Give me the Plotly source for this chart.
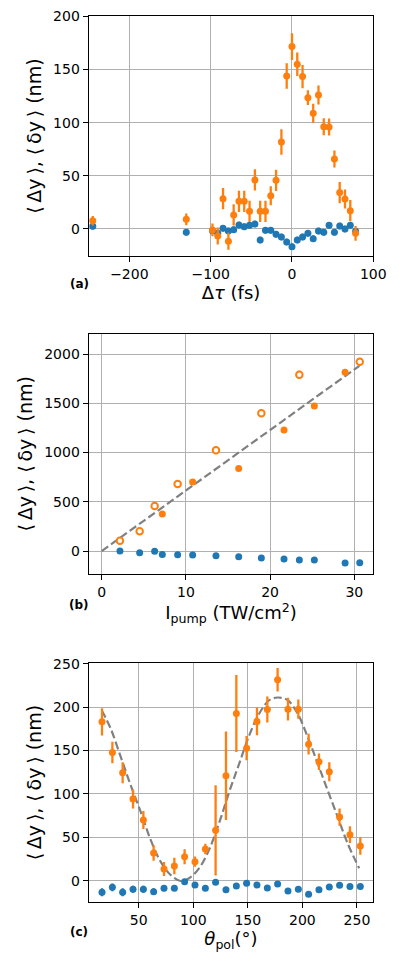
import plotly.graph_objects as go

# ---------------- Panel (a): delay scan ----------------
tau = [-245, -130, -97.8, -91.3, -84.8, -78.2, -71.7, -65.2, -58.7, -52.2, -45.6, -39.1,
       -32.6, -26.1, -19.6, -13.0, -6.5, 0, 6.5, 13.0, 19.6, 26.1, 32.6, 39.1, 45.6,
       52.2, 58.7, 65.2, 71.7, 78.2]
a_orange = [7.8, 9.1, -0.9, -6.6, 28.5, -11.6, 13.2, 26.0, 26.0, 16.6, 46.1, 16.6,
            16.6, 31.3, 45.8, 81.8, 143.9, 171.5, 154.9, 143.3, 123.5, 108.8, 126.0,
            96.2, 95.9, 65.8, 34.2, 28.2, 17.2, -4.1]
a_orange_err = [4.5, 5.5, 6, 8, 10, 8, 10, 10, 10, 10, 10, 10,
                10, 9, 10, 12, 12, 12.5, 11, 11, 7, 9, 9, 8, 8, 8, 10, 9, 10, 7]
a_blue = [2.5, -3.1, -1.6, -4.1, 0.6, -1.9, -0.6, 3.8, 2.2, 3.4, 4.7, -10.3,
          -1.3, -1.3, -5.0, -7.5, -12.2, -16.6, -10.3, -7.5, -4.1, -9.1, -1.9,
          -3.1, 3.4, -3.1, 2.8, 0.0, 3.4, -2.2]
a_blue_err = [3] * len(tau)

# ---------------- Panel (b): pump intensity ----------------
ip_open = [2.17, 4.51, 6.29, 9.02, 13.57, 18.96, 23.47, 30.64]
b_open = [105, 200, 457, 680, 1022, 1398, 1790, 1922]
b_open_err = [25, 25, 30, 30, 30, 35, 40, 25]
ip_filled = [7.20, 10.80, 16.27, 21.65, 25.25, 28.90]
b_filled = [376, 700, 839, 1228, 1472, 1814]
ip_blue = [2.17, 4.51, 6.29, 7.20, 9.02, 10.80, 13.57, 16.27, 18.96, 21.65, 23.47,
           25.25, 28.90, 30.64]
b_blue = [0, -17, -3, -34, -37, -41, -47, -58, -71, -81, -91, -91, -122, -118]
b_fit_x = [0, 30.6]
b_fit_y = [0, 1880]

# ---------------- Panel (c): polarisation ----------------
theta = [16.4, 25.9, 35.3, 44.8, 54.3, 63.7, 73.2, 82.7, 92.1, 101.6, 111.1, 120.5,
         130.0, 139.5, 148.9, 158.4, 167.9, 177.3, 186.8, 196.3, 205.7, 215.2, 224.7,
         234.1, 243.6, 253.1]
c_orange = [183.2, 147.8, 124.4, 94.1, 69.9, 31.9, 13.4, 16.9, 27.6, 21.9, 36.5, 58.0,
            121.0, 192.8, 152.8, 183.6, 197.4, 231.6, 197.8, 197.8, 157.4, 137.1, 125.6,
            73.3, 53.0, 39.9]
c_orange_err = [15.7, 12.5, 12, 11, 10.5, 9, 8, 9.6, 8.6, 6, 6, 52, 51, 44.5, 14, 16,
                15, 13.6, 13, 11, 12, 9.6, 11, 10, 9.6, 10]
c_blue = [-13.4, -7.7, -13.4, -10.0, -10.0, -12.7, -8.8, -8.8, -1.2, -5.0, -8.8, -1.9,
          -10.4, -6.1, -3.1, -5.0, -8.4, -3.8, -11.9, -10.0, -15.7, -10.4, -7.3, -5.4,
          -6.9, -6.9]
c_blue_err = [4.5, 4.5, 4.5, 4, 4, 4, 3.5, 3, 3, 3, 3, 3, 3, 3, 3, 3, 3, 3, 3, 3, 3, 3,
              3, 3, 3, 3]
c_fit_x = [16.1, 24.3, 33.5, 42.6, 51.8, 61.0, 70.1, 79.3, 88.4, 96.1, 105.3, 114.4,
           123.6, 133.0, 142.2, 151.4, 160.5, 169.7, 177.3, 186.5, 195.6, 204.8, 214.0,
           223.1, 232.3, 241.4, 252.1]
c_fit_y = [196.6, 175.5, 142.9, 110.2, 79.5, 46.9, 21.9, 6.5, -0.4, 2.7, 14.2, 35.3,
           66.1, 102.5, 135.2, 167.8, 192.8, 208.1, 211.2, 208.1, 192.8, 165.9, 135.2,
           104.5, 73.7, 43.0, 14.2]

BLUE = "#1f77b4"
ORANGE = "#ff7f0e"
GRAY = "#808080"
FONT = "DejaVu Sans"
W, H = 399, 970
OFF = 8  # page body margin: page pixel = figure pixel + OFF

fig = go.Figure()


def pts(x, y, err, color, xa, ya, size=7, open_marker=False):
    marker = dict(color="white" if open_marker else color, size=size,
                  line=dict(color=color, width=2 if open_marker else 0))
    kw = dict(x=x, y=y, mode="markers", marker=marker, xaxis=xa, yaxis=ya,
              showlegend=False)
    if err is not None:
        kw["error_y"] = dict(type="data", array=err, visible=True, color=color,
                             thickness=2.3, width=0)
    fig.add_trace(go.Scatter(**kw))


# (a)
pts(tau, a_blue, a_blue_err, BLUE, "x", "y")
pts(tau, a_orange, a_orange_err, ORANGE, "x", "y")
# (b)
fig.add_trace(go.Scatter(x=b_fit_x, y=b_fit_y, mode="lines", xaxis="x2", yaxis="y2",
                         line=dict(color=GRAY, width=2.2, dash="8px,3.5px"),
                         showlegend=False))
pts(ip_blue, b_blue, None, BLUE, "x2", "y2")
pts(ip_filled, b_filled, None, ORANGE, "x2", "y2")
pts(ip_open, b_open, b_open_err, ORANGE, "x2", "y2", size=6.5, open_marker=True)
# (c)
fig.add_trace(go.Scatter(x=c_fit_x, y=c_fit_y, mode="lines", xaxis="x3", yaxis="y3",
                         line=dict(color=GRAY, width=2.2, dash="8px,3.5px",
                                   shape="spline", smoothing=1.0),
                         showlegend=False))
pts(theta, c_blue, c_blue_err, BLUE, "x3", "y3")
pts(theta, c_orange, c_orange_err, ORANGE, "x3", "y3")


def px_x(p):
    return (p - OFF) / W


def px_y(p):
    return 1 - (p - OFF) / H


xdom = [px_x(88.7), px_x(373.3)]


def ydom(top_px, bot_px):
    return [px_y(bot_px), px_y(top_px)]


axis_common = dict(showline=True, linecolor="black", linewidth=1.1, mirror=True,
                   ticks="outside", ticklen=5, tickwidth=1.1, tickcolor="black",
                   showgrid=True, gridcolor="#b0b0b0", gridwidth=1.1, zeroline=False,
                   automargin=False,
                   tickfont=dict(family=FONT, size=14, color="black"))

title_font = dict(family=FONT, size=18, color="black")
ytitle_font = dict(family=FONT, size=19, color="black")
ytitle = "⟨\u2009Δy\u2009⟩, ⟨\u2009δy\u2009⟩ (nm)"

fig.update_layout(
    width=W, height=H,
    margin=dict(l=0, r=0, t=0, b=0),
    paper_bgcolor="white", plot_bgcolor="white",
    xaxis=dict(domain=xdom, range=[-250, 100], tickvals=[-200, -100, 0, 100],
               ticktext=["−200", "−100", "0", "100"],
               title=dict(text="Δ<i>τ</i> (fs)", font=title_font, standoff=2),
               anchor="y", **axis_common),
    yaxis=dict(domain=ydom(16.3, 256), range=[-25.4, 200], tickvals=[0, 50, 100, 150, 200],
               title=dict(text=ytitle, font=ytitle_font, standoff=6),
               anchor="x", **axis_common),
    xaxis2=dict(domain=xdom, range=[-1.54, 32.25], tickvals=[0, 10, 20, 30],
                title=dict(text="I<sub>pump</sub> (TW/cm<sup>2</sup>)", font=title_font,
                           standoff=2),
                anchor="y2", **axis_common),
    yaxis2=dict(domain=ydom(333.7, 574), range=[-233, 2206],
                tickvals=[0, 500, 1000, 1500, 2000],
                title=dict(text=ytitle, font=ytitle_font, standoff=6),
                anchor="x2", **axis_common),
    xaxis3=dict(domain=xdom, range=[4.2, 265], tickvals=[50, 100, 150, 200, 250],
                title=dict(text="<i>θ</i><sub>pol</sub>(°)", font=title_font, standoff=2),
                anchor="y3", **axis_common),
    yaxis3=dict(domain=ydom(663, 902.3), range=[-25, 251],
                tickvals=[0, 50, 100, 150, 200, 250],
                title=dict(text=ytitle, font=ytitle_font, standoff=6),
                anchor="x3", **axis_common),
)

for lab, ypx in [("(a)", 284), ("(b)", 605), ("(c)", 932)]:
    fig.add_annotation(text=f"<b>{lab}</b>", x=px_x(79), y=px_y(ypx), xref="paper",
                       yref="paper", showarrow=False, xanchor="center", yanchor="middle",
                       font=dict(family=FONT, size=12, color="black"))

fig.write_html("out.html")
